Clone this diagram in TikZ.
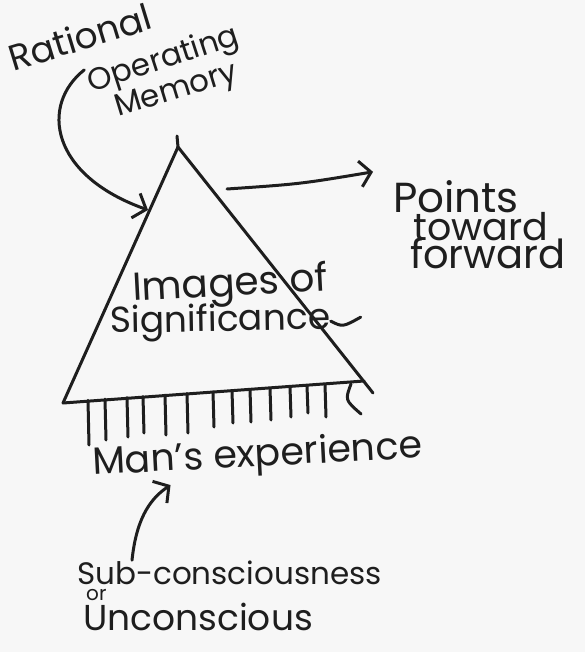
\documentclass[tikz,border=0pt]{standalone}
\usepackage{fontspec}
\setmainfont{Poppins}
\usetikzlibrary{positioning,arrows.meta}
\definecolor{ink}{RGB}{30,30,30}
\definecolor{paper}{RGB}{247,247,247}
\tikzset{
  pen/.style={line width=3pt,line cap=round,line join=round,draw=ink},
  hand/.style={font=\fontsize{#1}{#1}\selectfont,text=ink,inner sep=0pt},
  hand/.default=38,
}

\begin{document}
\begin{tikzpicture}[x=1pt,y=-1pt,>={Straight Barb[length=11pt,width=26pt]}]
  \fill[paper] (0,0) rectangle (585,652);
  \useasboundingbox (0,0) rectangle (585,652);

  % triangle and its hatched base
  \coordinate (apex) at (178,147);
  \coordinate (left) at (63,403);
  \coordinate (right) at (373,393);
  \coordinate (corner) at (364,381);
  \coordinate (entry) at (148,210);
  \coordinate (fwd) at (227,189);
  \draw[pen] (right) -- (apex) -- (left);
  \draw[pen] (apex) -- ++(-1,-11);
  \draw[pen] (left) -- (corner);
  \foreach \x/\y in {88/445,105/440,127/437,143/433,165/435,187/433,213/427,232/423,250/422,270/420,290/417,307/413,325/417}
    \draw[pen] (\x,{402-0.067*(\x-63)}) -- (\x+1,\y);
  \draw[pen] (351,384) .. controls (345,400) .. (361,414);

  % labels
  \node[hand=36,rotate=17] (rational) at (80,37) {Rational};
  \node[hand=31,rotate=18] (operating) at (164,61) {Operating};
  \node[hand=31,rotate=17] (memory) at (177,92) {Memory};
  \node[hand=39,rotate=3,anchor=base west] (images) at (133,301) {Images of};
  \node[hand=36,rotate=1,anchor=base west] (sig) at (110,333) {Significance};
  \node[hand=42,anchor=base west] (points) at (393,212) {Points};
  \node[hand=38,anchor=base west] (toward) at (413,240) {toward};
  \node[hand=40,anchor=base west] (forward) at (410,268) {forward};
  \node[hand=38,rotate=3,anchor=base west] (mans) at (93,475) {Man's experience};
  \node[hand=31,anchor=base west] (sub) at (77,584) {Sub-consciousness};
  \node[hand=20,anchor=base west] (or) at (86,600) {or};
  \node[hand=36,anchor=base west] (uncon) at (83,630) {Unconscious};

  % arrows
  \draw[pen,->] (operating.north west) .. controls (40,105) and (50,175) .. (entry);
  \draw[pen,->] (fwd) .. controls (300,184) .. ([xshift=-20pt,yshift=8pt]points.north west);
  \draw[pen,->] ([xshift=55pt]sub.north west) .. controls (136,522) and (148,500) .. ([xshift=77pt]mans.south west);
  \draw[pen] ([yshift=8pt]sig.base east) .. controls +(12,6) .. +(30,-4);
\end{tikzpicture}
\end{document}
